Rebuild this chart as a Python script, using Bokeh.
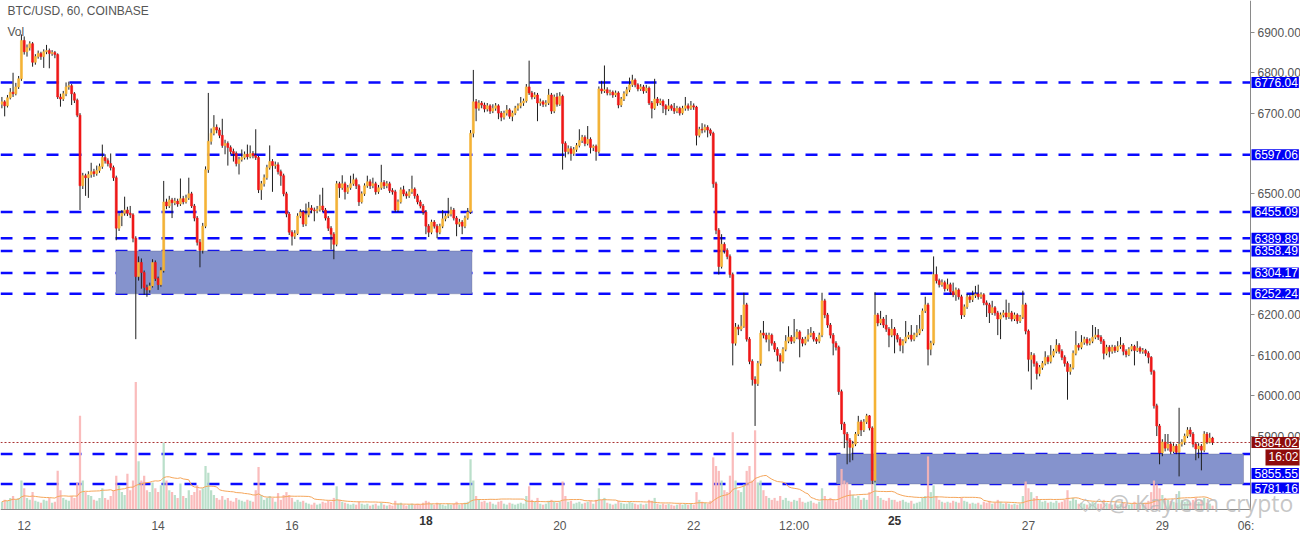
import numpy as np
import pandas as pd

from bokeh.plotting import figure
from bokeh.models import (Range1d, FixedTicker, PrintfTickFormatter,
                          BoxAnnotation, Label, ColumnDataSource)
from bokeh.embed import file_html
from bokeh.resources import INLINE

# BTC/USD hourly candles, t = hours since Sep 12 00:00 (t=-8 is Sep 11 16:00)
first_open = 6722
closes = [
    6728, 6718, 6738, 6752, 6748, 6765, 6785, 6880,  # 11
    6852, 6862, 6872, 6826, 6840, 6848, 6840, 6852, 6855, 6848, 6850, 6845, 6740, 6735, 6748, 6765, 6768, 6748, 6732, 6695, 6520, 6545, 6540, 6548,  # 12
    6555, 6550, 6558, 6568, 6590, 6582, 6575, 6565, 6540, 6415, 6445, 6452, 6460, 6452, 6448, 6390, 6295, 6330, 6305, 6268, 6262, 6272, 6330, 6290,  # 13
    6275, 6310, 6480, 6470, 6485, 6478, 6482, 6475, 6488, 6480, 6490, 6500, 6470, 6440, 6380, 6360, 6420, 6560, 6630, 6650, 6665, 6658, 6645, 6620,  # 14
    6625, 6615, 6605, 6600, 6575, 6585, 6590, 6598, 6592, 6600, 6595, 6590, 6510, 6525, 6540, 6565, 6580, 6570, 6572, 6555, 6545, 6500, 6450, 6405,  # 15
    6395, 6402, 6445, 6455, 6425, 6448, 6465, 6460, 6458, 6462, 6470, 6460, 6440, 6415, 6400, 6375, 6525, 6515, 6525, 6505, 6515, 6525, 6535, 6520,  # 16
    6480, 6500, 6520, 6530, 6520, 6525, 6505, 6515, 6528, 6520, 6525, 6508, 6505, 6460, 6480, 6510, 6500, 6495, 6505, 6512, 6495, 6480, 6470, 6455,  # 17
    6420, 6405, 6430, 6420, 6405, 6420, 6438, 6445, 6450, 6460, 6440, 6425, 6430, 6420, 6440, 6455, 6650, 6728, 6712, 6725, 6720, 6710, 6718, 6705,  # 18
    6712, 6718, 6700, 6690, 6700, 6708, 6692, 6700, 6712, 6718, 6725, 6730, 6765, 6750, 6740, 6745, 6725, 6728, 6722, 6725, 6745, 6705, 6740, 6722,  # 19
    6742, 6625, 6605, 6612, 6600, 6610, 6620, 6632, 6640, 6625, 6635, 6615, 6618, 6605, 6760, 6755, 6758, 6750, 6752, 6745, 6750, 6720, 6735, 6748,  # 20
    6758, 6770, 6782, 6770, 6760, 6765, 6755, 6762, 6725, 6712, 6735, 6725, 6730, 6718, 6710, 6718, 6712, 6705, 6712, 6700, 6712, 6718, 6712, 6718,  # 21
    6715, 6645, 6660, 6658, 6665, 6658, 6650, 6525, 6410, 6320, 6375, 6360, 6345, 6300, 6130, 6170, 6165, 6172, 6225, 6140, 6085, 6040, 6030, 6080,  # 22
    6155, 6150, 6140, 6150, 6130, 6115, 6100, 6085, 6115, 6135, 6145, 6135, 6145, 6158, 6140, 6130, 6140, 6150, 6155, 6140, 6135, 6150, 6235, 6200,  # 23
    6175, 6150, 6130, 6120, 6010, 5930, 5905, 5890, 5872, 5880, 5905, 5935, 5915, 5935, 5950, 5920, 5790, 6200, 6180, 6190, 6175, 6165, 6150, 6165,  # 24
    6150, 6140, 6125, 6135, 6145, 6150, 6140, 6150, 6155, 6165, 6210, 6225, 6115, 6130, 6300, 6285, 6275, 6280, 6265, 6275, 6258, 6250, 6262, 6245,  # 25
    6200, 6220, 6245, 6238, 6248, 6252, 6245, 6250, 6230, 6225, 6205, 6218, 6205, 6190, 6200, 6205, 6195, 6205, 6190, 6200, 6185, 6195, 6225, 6160,  # 26
    6090, 6100, 6080, 6055, 6070, 6080, 6095, 6085, 6100, 6110, 6125, 6110, 6095, 6080, 6060, 6070, 6105, 6125, 6120, 6132, 6140, 6130, 6135, 6145,  # 27
    6150, 6145, 6135, 6105, 6120, 6110, 6120, 6112, 6122, 6125, 6110, 6102, 6115, 6122, 6112, 6118, 6110, 6112, 6105, 6095, 6060, 5975, 5925, 5858,  # 28
    5885, 5870, 5880, 5862, 5875, 5860, 5880, 5885, 5900, 5915, 5905, 5880, 5868, 5875, 5865, 5905, 5885, 5895, 5884.02,  # 29
]
highs = [
    6740, 6732, 6745, 6762, 6800, 6775, 6792, 6895,
    6890, 6870, 6878, 6876, 6846, 6855, 6852, 6858, 6869, 6860, 6856, 6854, 6848, 6748, 6755, 6776, 6778, 6772, 6752, 6736, 6700, 6552, 6550, 6556,
    6577, 6562, 6570, 6575, 6622, 6598, 6588, 6600, 6570, 6545, 6452, 6460, 6493, 6468, 6470, 6452, 6395, 6345, 6340, 6310, 6275, 6280, 6338, 6335,
    6295, 6318, 6532, 6488, 6495, 6490, 6490, 6488, 6538, 6495, 6498, 6540, 6505, 6475, 6445, 6388, 6428, 6568, 6750, 6662, 6695, 6672, 6664, 6686,
    6634, 6630, 6620, 6612, 6605, 6592, 6610, 6605, 6622, 6620, 6606, 6660, 6594, 6532, 6548, 6572, 6620, 6586, 6580, 6578, 6560, 6550, 6505, 6455,
    6410, 6410, 6452, 6462, 6460, 6476, 6480, 6472, 6466, 6470, 6498, 6515, 6465, 6445, 6420, 6405, 6532, 6530, 6546, 6530, 6522, 6545, 6550, 6540,
    6524, 6506, 6526, 6545, 6536, 6540, 6530, 6522, 6572, 6534, 6532, 6530, 6514, 6510, 6486, 6516, 6520, 6506, 6512, 6545, 6516, 6500, 6485, 6475,
    6460, 6425, 6436, 6435, 6425, 6426, 6460, 6452, 6490, 6468, 6465, 6445, 6438, 6435, 6446, 6465, 6658, 6807, 6735, 6732, 6730, 6726, 6725, 6722,
    6722, 6725, 6722, 6705, 6706, 6720, 6712, 6706, 6718, 6724, 6740, 6736, 6772, 6830, 6755, 6752, 6750, 6736, 6732, 6732, 6760, 6750, 6746, 6750,
    6752, 6746, 6630, 6620, 6618, 6616, 6626, 6660, 6646, 6645, 6668, 6640, 6622, 6622, 6766, 6780, 6818, 6764, 6758, 6756, 6756, 6754, 6740, 6754,
    6765, 6788, 6795, 6786, 6774, 6772, 6770, 6770, 6766, 6730, 6785, 6740, 6736, 6734, 6722, 6735, 6722, 6725, 6718, 6716, 6718, 6740, 6724, 6730,
    6724, 6718, 6666, 6675, 6672, 6670, 6662, 6654, 6530, 6415, 6400, 6380, 6365, 6350, 6305, 6180, 6176, 6200, 6255, 6230, 6145, 6090, 6048, 6086,
    6162, 6185, 6156, 6156, 6154, 6135, 6120, 6105, 6120, 6150, 6172, 6150, 6190, 6165, 6162, 6145, 6146, 6165, 6170, 6160, 6145, 6156, 6255, 6240,
    6205, 6180, 6155, 6135, 6124, 6015, 5935, 5910, 5895, 5888, 5910, 5950, 5940, 5942, 5955, 5952, 5924, 6256, 6205, 6210, 6195, 6200, 6170, 6190,
    6170, 6155, 6145, 6140, 6185, 6158, 6175, 6156, 6175, 6200, 6216, 6245, 6230, 6136, 6345, 6320, 6290, 6288, 6285, 6290, 6280, 6280, 6268, 6266,
    6250, 6226, 6252, 6250, 6260, 6272, 6275, 6256, 6254, 6236, 6230, 6235, 6222, 6210, 6206, 6212, 6238, 6230, 6210, 6206, 6204, 6200, 6260, 6230,
    6164, 6108, 6105, 6085, 6076, 6086, 6110, 6100, 6125, 6116, 6140, 6130, 6115, 6100, 6085, 6078, 6112, 6160, 6130, 6150, 6146, 6145, 6142, 6175,
    6170, 6165, 6150, 6140, 6126, 6125, 6126, 6125, 6135, 6145, 6130, 6115, 6120, 6128, 6126, 6135, 6122, 6118, 6116, 6110, 6098, 6064, 5980, 5930,
    5892, 5905, 5905, 5886, 5882, 5880, 5970, 5892, 5906, 5922, 5922, 5910, 5885, 5882, 5880, 5912, 5910, 5908, 5898,
]
lows = [
    6712, 6692, 6714, 6734, 6740, 6744, 6760, 6780,
    6845, 6840, 6855, 6815, 6820, 6835, 6832, 6812, 6846, 6811, 6842, 6836, 6735, 6716, 6730, 6742, 6758, 6720, 6725, 6690, 6460, 6512, 6495, 6490,
    6540, 6542, 6545, 6552, 6562, 6575, 6568, 6558, 6532, 6385, 6408, 6420, 6446, 6445, 6440, 6380, 6140, 6285, 6265, 6250, 6245, 6255, 6268, 6284,
    6262, 6270, 6305, 6462, 6465, 6440, 6472, 6468, 6470, 6474, 6476, 6485, 6465, 6432, 6372, 6318, 6352, 6415, 6552, 6622, 6645, 6650, 6638, 6614,
    6598, 6570, 6598, 6580, 6568, 6548, 6580, 6585, 6585, 6588, 6588, 6584, 6502, 6485, 6518, 6535, 6560, 6505, 6562, 6548, 6520, 6494, 6442, 6398,
    6372, 6388, 6398, 6440, 6418, 6420, 6442, 6452, 6432, 6452, 6456, 6455, 6434, 6408, 6362, 6338, 6370, 6490, 6510, 6486, 6500, 6510, 6520, 6512,
    6470, 6476, 6495, 6515, 6512, 6514, 6498, 6500, 6510, 6512, 6514, 6502, 6498, 6455, 6455, 6476, 6494, 6488, 6490, 6500, 6488, 6474, 6464, 6448,
    6400, 6393, 6400, 6414, 6390, 6400, 6415, 6432, 6440, 6444, 6434, 6395, 6418, 6400, 6415, 6436, 6450, 6640, 6680, 6706, 6712, 6702, 6704, 6698,
    6700, 6706, 6685, 6680, 6684, 6694, 6686, 6680, 6695, 6706, 6712, 6718, 6726, 6745, 6734, 6735, 6680, 6718, 6715, 6716, 6720, 6698, 6700, 6716,
    6718, 6560, 6590, 6598, 6582, 6594, 6604, 6615, 6626, 6618, 6620, 6600, 6606, 6582, 6600, 6748, 6750, 6744, 6744, 6738, 6740, 6712, 6715, 6730,
    6742, 6752, 6765, 6764, 6754, 6755, 6748, 6750, 6720, 6687, 6708, 6718, 6720, 6700, 6695, 6705, 6706, 6698, 6700, 6694, 6696, 6706, 6706, 6708,
    6708, 6620, 6640, 6650, 6652, 6640, 6644, 6515, 6400, 6300, 6315, 6352, 6338, 6292, 6075, 6124, 6150, 6160, 6168, 6134, 6078, 6025, 5925, 6024,
    6074, 6142, 6132, 6110, 6124, 6108, 6085, 6060, 6080, 6110, 6130, 6128, 6130, 6140, 6095, 6122, 6125, 6134, 6145, 6134, 6128, 6130, 6145, 6192,
    6168, 6142, 6100, 6112, 6002, 5915, 5870, 5830, 5835, 5840, 5875, 5900, 5900, 5910, 5930, 5914, 5781, 5785, 6172, 6175, 6168, 6158, 6120, 6145,
    6105, 6132, 6110, 6105, 6130, 6140, 6134, 6135, 6145, 6150, 6160, 6205, 6075, 6100, 6125, 6278, 6268, 6270, 6258, 6260, 6250, 6244, 6235, 6238,
    6190, 6195, 6215, 6230, 6232, 6242, 6238, 6240, 6224, 6195, 6180, 6200, 6198, 6150, 6140, 6194, 6188, 6190, 6184, 6185, 6178, 6180, 6190, 6152,
    6060, 6015, 6072, 6040, 6048, 6064, 6075, 6078, 6080, 6095, 6105, 6104, 6088, 6072, 5990, 6052, 6065, 6100, 6112, 6115, 6126, 6124, 6125, 6130,
    6140, 6138, 6128, 6090, 6100, 6095, 6104, 6106, 6108, 6116, 6100, 6095, 6098, 6110, 6075, 6108, 6104, 6104, 6098, 6080, 6052, 5968, 5900, 5830,
    5850, 5862, 5864, 5855, 5858, 5855, 5800, 5874, 5878, 5895, 5898, 5872, 5840, 5845, 5815, 5860, 5880, 5882, 5878,
]
volumes = [
    8, 10, 9, 12, 14, 10, 12, 30,
    22, 12, 10, 18, 9, 8, 7, 10, 9, 12, 7, 8, 40, 20, 12, 10, 9, 14, 12, 28, 97, 30, 18, 15,
    14, 10, 9, 12, 22, 12, 10, 14, 20, 35, 25, 18, 15, 37, 20, 30, 132, 50, 30, 35, 20, 18, 28, 22,
    18, 25, 69, 30, 20, 18, 15, 12, 27, 14, 12, 20, 15, 18, 25, 20, 22, 45, 38, 20, 15, 12, 10, 14,
    10, 12, 9, 8, 12, 10, 9, 8, 10, 9, 8, 20, 44, 15, 10, 12, 14, 12, 8, 17, 10, 15, 18, 15,
    12, 8, 10, 8, 9, 7, 6, 5, 7, 5, 6, 8, 7, 9, 8, 12, 24, 10, 8, 7, 6, 5, 6, 5,
    8, 6, 5, 6, 4, 5, 6, 4, 7, 5, 4, 5, 4, 9, 6, 7, 5, 4, 5, 6, 5, 6, 5, 7,
    9, 8, 6, 5, 7, 6, 5, 4, 6, 5, 6, 8, 5, 6, 7, 8, 52, 30, 14, 10, 8, 9, 7, 8,
    6, 5, 8, 9, 6, 5, 7, 6, 5, 6, 7, 6, 14, 24, 10, 8, 12, 6, 5, 6, 9, 10, 8, 7,
    8, 29, 14, 8, 9, 6, 7, 8, 6, 7, 8, 9, 6, 10, 22, 10, 12, 7, 6, 5, 6, 9, 7, 6,
    6, 8, 7, 6, 5, 6, 5, 6, 10, 9, 12, 6, 5, 6, 5, 6, 5, 4, 5, 6, 5, 6, 5, 6,
    5, 18, 10, 8, 7, 6, 9, 54, 45, 40, 30, 20, 18, 35, 80, 30, 20, 18, 26, 40, 45, 30, 82, 28,
    30, 20, 14, 12, 10, 12, 9, 14, 10, 12, 9, 8, 10, 9, 12, 8, 7, 8, 9, 7, 6, 8, 22, 14,
    10, 12, 10, 8, 25, 42, 30, 28, 20, 15, 12, 14, 10, 12, 10, 18, 40, 32, 14, 12, 10, 9, 12, 10,
    10, 8, 9, 10, 8, 7, 9, 6, 7, 8, 12, 14, 55, 18, 25, 14, 10, 8, 7, 8, 7, 9, 8, 7,
    12, 9, 8, 6, 7, 6, 7, 5, 8, 7, 9, 6, 7, 10, 8, 6, 7, 6, 5, 6, 5, 6, 14, 29,
    22, 18, 12, 14, 10, 8, 9, 7, 8, 7, 9, 7, 8, 10, 20, 9, 12, 10, 6, 7, 6, 5, 6, 8,
    7, 6, 6, 10, 7, 6, 5, 6, 5, 6, 7, 6, 5, 6, 8, 6, 5, 6, 7, 9, 18, 30, 26, 22,
    15, 12, 10, 9, 8, 7, 19, 10, 8, 9, 7, 10, 12, 8, 10, 12, 7, 6, 4,
]

# horizontal levels drawn on the chart, and where their tags sit on the scale
levels = [6776.04, 6597.06, 6455.09, 6389.89, 6358.49, 6304.17, 6252.24, 5855.55, 5781.16]
tag_y = [6776.04, 6597.06, 6455.09, 6389.89, 6358.49, 6304.17, 6252.24, 5807, 5771]
last_price = 5884.02
countdown = "16:02"
countdown_y = 5847
# zones: (left hour, right hour, bottom, top)
zones = [(32.9, 160.5, 6252.24, 6358.49), (291.2, 437.1, 5781.16, 5855.55)]

price_ticks = [5900, 6000, 6100, 6200, 6500, 6700, 6800, 6900]
date_ticks = [0, 48, 96, 144, 192, 240, 276, 312, 360, 408, 438]
date_labels = ["12", "14", "16", "18", "20", "22", "12:00", "25", "27", "29", "06:"]
bold_dates = ["18", "25"]

UP = "#f5b335"
DOWN = "#f01818"
FONT = "Liberation Sans"

W, H = 1300, 531
AXIS_PX = 1250          # x pixel of the price scale
BOTTOM_PX = 22          # strip under the chart for the date labels
x0, x_axis = -8.5, 439.6
y_lo, y_hi = 5718, 6979
x_end = x0 + (x_axis - x0) * W / AXIS_PX
px_per_price = (H - BOTTOM_PX) / (y_hi - y_lo)
y_start = y_lo - BOTTOM_PX / px_per_price
vol_start = -527 * BOTTOM_PX / (H - BOTTOM_PX)

t = np.arange(-8, -8 + len(closes))
opens = [first_open] + closes[:-1]
df = pd.DataFrame({"t": t, "open": opens, "close": closes, "high": highs,
                   "low": lows, "vol": volumes})
up = df.close >= df.open
df["color"] = np.where(up, UP, DOWN)
df["vcolor"] = np.where(up, "#b3dcc4", "#f9b5b5")
df["top"] = df[["open", "close"]].max(axis=1)
df["bot"] = df[["open", "close"]].min(axis=1)
df["vol_ma"] = df.vol.rolling(20, min_periods=1).mean()
src = ColumnDataSource(df)

p = figure(width=W, height=H, x_range=Range1d(x0, x_end),
           y_range=Range1d(y_start, y_hi), y_axis_location="right",
           toolbar_location=None, output_backend="svg",
           min_border=0)
p.extra_y_ranges = {"vol": Range1d(vol_start, 527)}
p.grid.visible = False
p.outline_line_color = None

# axes sit inside the frame, the price scale at x_axis and the dates at y_lo
p.yaxis.fixed_location = x_axis
p.yaxis.bounds = (y_lo, y_hi)
p.yaxis.ticker = FixedTicker(ticks=price_ticks)
p.yaxis.formatter = PrintfTickFormatter(format="%.2f")
p.xaxis.fixed_location = y_lo
p.xaxis.bounds = (x0, x_axis)
p.xaxis.ticker = FixedTicker(ticks=date_ticks)
p.xaxis.major_label_overrides = {k: ("" if v in bold_dates else v)
                                 for k, v in zip(date_ticks, date_labels)}
p.axis.axis_line_color = "#8a8a8a"
p.axis.major_label_text_color = "#555555"
p.axis.major_label_text_font = FONT
p.axis.major_label_text_font_size = "12px"
p.axis.minor_tick_line_color = None
p.yaxis.major_tick_in = 0
p.yaxis.major_tick_out = 4
p.yaxis.major_tick_line_color = "#8a8a8a"
p.yaxis.major_label_standoff = 3
p.xaxis.major_tick_line_color = None
p.xaxis.major_label_standoff = 3

# zones and levels behind the candles
for left, right, bottom, top in zones:
    p.add_layout(BoxAnnotation(left=left, right=right, bottom=bottom, top=top,
                               fill_color="#8593cd", fill_alpha=1.0,
                               line_color="#4b4f78", line_width=1,
                               level="underlay"))
p.segment(x0=x0, x1=x_axis, y0=levels, y1=levels, line_color="#0a0aff",
          line_width=2.5, line_dash="12 11", level="underlay")
p.segment(x0=x0, x1=x_axis, y0=last_price, y1=last_price, line_color="#a83232",
          line_width=1, line_dash="2 2", level="underlay")

# volume pane
p.vbar(x="t", top="vol", bottom=0, width=0.8, source=src, y_range_name="vol",
       fill_color="vcolor", line_color=None, fill_alpha=0.9)
p.line(x="t", y="vol_ma", source=src, y_range_name="vol",
       line_color="#f5a65b", line_width=1)

# candles
p.segment(x0="t", y0="low", x1="t", y1="high", source=src,
          line_color="#1e1e1e", line_width=1)
p.vbar(x="t", top="top", bottom="bot", width=0.72, source=src,
       fill_color="color", line_color="color", line_width=0.6)

# price tags on the price scale
tag_pad = dict(left=3, right=1, top=1, bottom=1)
for lv, ty in zip(levels, tag_y):
    p.add_layout(Label(x=AXIS_PX + 1, x_units="screen", y=ty, y_units="data",
                       text=f"{lv:.2f}", text_color="white", text_font=FONT,
                       text_font_size="12px", text_baseline="middle",
                       background_fill_color="#0000f5", padding=tag_pad))
p.add_layout(Label(x=AXIS_PX + 1, x_units="screen", y=last_price, y_units="data",
                   text=f"{last_price:.2f}", text_color="white", text_font=FONT,
                   text_font_size="12px", text_baseline="middle",
                   background_fill_color="#8e0b0b", padding=tag_pad))
p.add_layout(Label(x=AXIS_PX + 15, x_units="screen", y=countdown_y, y_units="data",
                   text=countdown, text_color="white", text_font=FONT,
                   text_font_size="12px", text_baseline="middle",
                   background_fill_color="#8e0b0b",
                   padding=dict(left=3, right=1, top=1, bottom=1)))

# bold date labels, level with the axis labels
for k, v in zip(date_ticks, date_labels):
    if v in bold_dates:
        p.add_layout(Label(x=k, y=y_lo - 10.5 / px_per_price, text=v,
                           text_font=FONT, text_font_size="12px",
                           text_font_style="bold", text_color="#333333",
                           text_align="center", text_baseline="middle"))

# header and watermark
p.add_layout(Label(x=7, x_units="screen", y=6954, y_units="data",
                   text="BTC/USD, 60, COINBASE", text_font=FONT,
                   text_font_size="12px", text_color="#555555",
                   text_baseline="middle"))
p.add_layout(Label(x=7, x_units="screen", y=6900, y_units="data",
                   text="Vol", text_font=FONT, text_font_size="12px",
                   text_color="#555555", text_baseline="middle"))
p.add_layout(Label(x=1078, x_units="screen", y=5733, y_units="data",
                   text="\u25c7\u25c7", text_font="DejaVu Sans",
                   text_font_size="18px", text_color="#b8b8b8",
                   text_alpha=0.8, text_baseline="middle"))
p.add_layout(Label(x=1108, x_units="screen", y=5733, y_units="data",
                   text="@ Kayleen crypto", text_font="Open Sans",
                   text_font_size="23px", text_color="#b8b8b8",
                   text_alpha=0.8, text_baseline="middle"))

open("out.html", "w").write(file_html(p, INLINE))
